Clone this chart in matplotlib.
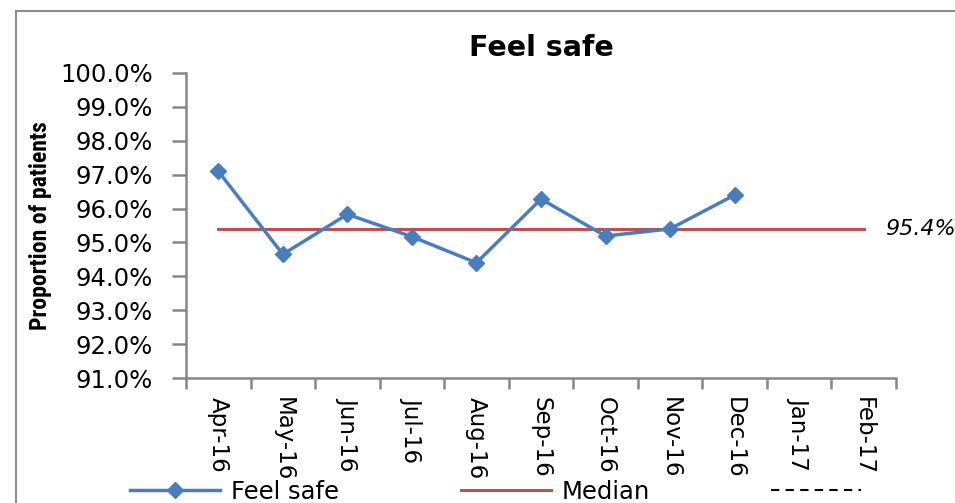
import matplotlib
matplotlib.use("Agg")
import matplotlib.pyplot as plt
from matplotlib.lines import Line2D
from matplotlib.patches import Rectangle
import matplotlib.transforms as mtransforms
from matplotlib import font_manager

months = ["Apr-16", "May-16", "Jun-16", "Jul-16", "Aug-16", "Sep-16",
          "Oct-16", "Nov-16", "Dec-16", "Jan-17", "Feb-17"]
feel_safe = [97.1, 94.65, 95.83, 95.17, 94.4, 96.28, 95.19, 95.4, 96.4]
median_value = 95.4
y_ticks = [91, 92, 93, 94, 95, 96, 97, 98, 99, 100]

BLUE = "#4A7EBB"
RED = "#C0504D"
GREY = "#868686"

installed = {f.name for f in font_manager.fontManager.ttflist}
narrow = [n for n in ("Liberation Sans Narrow", "DejaVu Sans Condensed",
                      "Roboto Condensed") if n in installed]
ylabel_family = narrow + ["DejaVu Sans"]
ylabel_size = 17 if narrow else 13

fig = plt.figure(figsize=(9.55, 5.03), dpi=100)
ax = fig.add_axes([0.1948, 0.2485, 0.7434, 0.6064])

x_all = list(range(len(months)))
ax.plot(x_all, [median_value] * len(months), color=RED, lw=2.2, zorder=2)
ax.plot(range(len(feel_safe)), feel_safe, color=BLUE, lw=2.5,
        marker="D", markersize=8, markerfacecolor=BLUE,
        markeredgecolor=BLUE, zorder=3)

ax.set_xlim(-0.5, len(months) - 0.5)
ax.set_ylim(91, 100)
ax.set_yticks(y_ticks)
ax.set_yticklabels([f"{v:.1f}%" for v in y_ticks], fontsize=17.5)
ax.set_xticks(x_all)
ax.set_xticklabels(months, rotation=-90, fontsize=16.5, va="top", ha="center")
ax.set_xticks([i - 0.5 for i in range(len(months) + 1)], minor=True)
ax.tick_params(axis="x", which="major", length=0, pad=14)
ax.tick_params(axis="x", which="minor", length=8, width=1.8, color=GREY)
ax.tick_params(axis="y", length=10, width=1.8, color=GREY, pad=14)

for side in ("top", "right"):
    ax.spines[side].set_visible(False)
for side in ("left", "bottom"):
    ax.spines[side].set_color(GREY)
    ax.spines[side].set_linewidth(1.8)

ax.set_title("Feel safe", fontsize=20.5, fontweight="bold", pad=12)
ax.set_ylabel("Proportion of patients", fontsize=ylabel_size,
              fontweight="bold", family=ylabel_family, labelpad=6)

# median value label to the right of the line
trans = mtransforms.blended_transform_factory(ax.transAxes, ax.transData)
ax.text(0.9845, median_value, f"{median_value:.1f}%", transform=trans,
        fontsize=16, style="italic", ha="left", va="center", clip_on=False)

handles = [
    Line2D([], [], color=BLUE, lw=2.5, marker="D", markersize=8),
    Line2D([], [], color=RED, lw=2.2),
    Line2D([], [], color="black", lw=1.5, linestyle=(0, (4, 3))),
]
fig.legend(handles, ["Feel safe", "Median", ""], loc="center",
           bbox_to_anchor=(0.525, 0.022), ncol=3, frameon=False,
           fontsize=17.5, handlelength=3.7, handletextpad=0.45,
           columnspacing=5.0)

# chart area border
fig.patches.append(Rectangle((16 / 955, -0.1), 1.2, (503 - 11) / 503 + 0.1,
                             transform=fig.transFigure, fill=False,
                             edgecolor="#8C8C8C", lw=1.5))

fig.savefig("out.png", dpi=100)
